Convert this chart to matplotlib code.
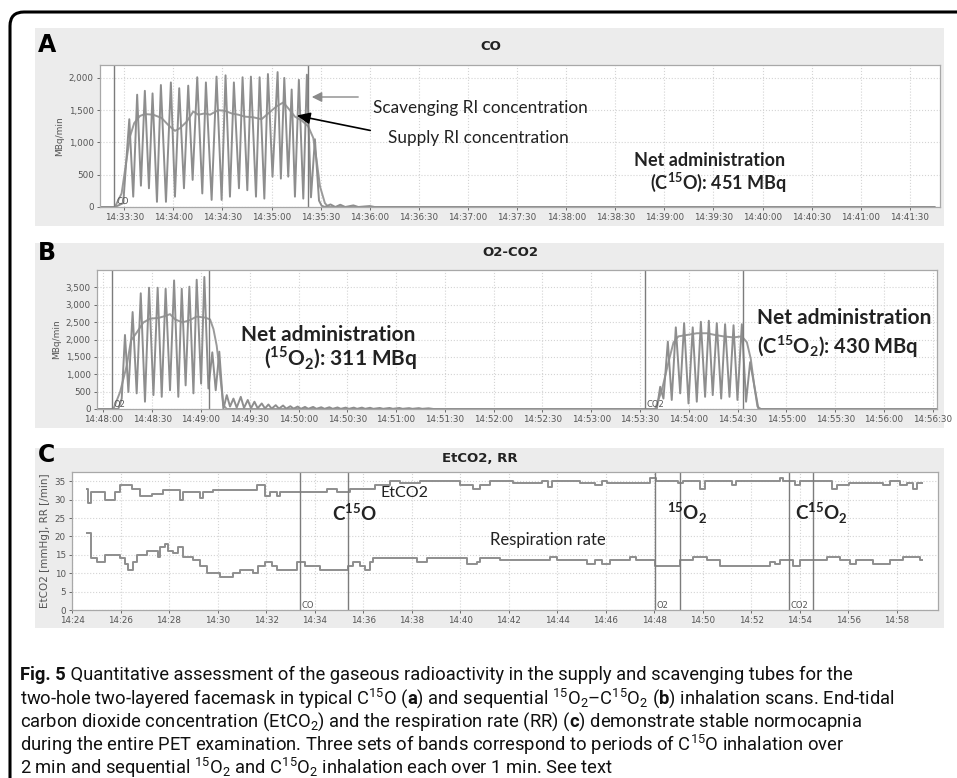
import matplotlib
matplotlib.use("Agg")
import matplotlib.pyplot as plt
from matplotlib.patches import Rectangle, FancyBboxPatch, FancyArrowPatch
from matplotlib.ticker import FuncFormatter, MultipleLocator
from matplotlib.text import Annotation
import matplotlib.transforms as mtrans

plt.rcParams['mathtext.fontset'] = 'custom'
plt.rcParams['mathtext.rm'] = 'Roboto'
plt.rcParams['mathtext.bf'] = 'Roboto:bold'
plt.rcParams['mathtext.sf'] = 'Lato:bold'

W, H = 957, 778

# ---- panel A (CO), seconds from 14:33:30 ----
a_t0 = 14*3600 + 33*60 + 30
a_scav_t = [-14, -5.7, -0.6, 3.1, 5.5, 7.9, 10.2, 12.6, 15.1, 17.3, 20.0, 22.4, 25.5, 28.5, 31.0,
            33.6, 36.5, 39.1, 41.8, 44.6, 47.7, 49.9, 53.4, 56.4, 59.5, 61.9, 64.6, 67.0, 70.1,
            72.3, 75.2, 77.4, 80.5, 82.7, 85.6, 87.8, 90.6, 93.7, 95.7, 97.8, 100.2, 102.3, 104.3,
            106.7, 109.4, 111.6, 114.1, 116.5, 119.0, 120.6, 122.6, 126, 129, 132, 135, 140, 143,
            150, 153, 495]
a_scav_v = [0, 0, 60, 1360, 160, 1740, 330, 1800, 290, 1760, 80, 1890, 80, 1930, 160,
            1840, 290, 1880, 420, 2010, 210, 1930, 110, 2020, 110, 2040, 160, 1930, 290,
            2010, 260, 2020, 160, 2010, 130, 2060, 470, 2090, 440, 2000, 470, 1820, 160,
            1970, 130, 2050, 150, 1050, 100, 20, 0, 40, 0, 35, 0, 25, 0,
            15, 0, 0]
a_sup_t = [-14, -5.7, -1.6, 1.4, 3.5, 6.1, 9.6, 12.6, 17.7, 22.8, 26.9, 31.0, 34.0, 38.1, 42.2,
           45.2, 49.3, 52.4, 57.4, 61.5, 65.6, 69.7, 73.7, 78.8, 83.9, 88.0, 93.1, 97.2, 100.2,
           104.3, 108.4, 112.4, 115.5, 117.5, 119.6, 122.6, 124.7, 495]
a_sup_v = [0, 0, 210, 730, 1090, 1300, 1410, 1440, 1430, 1380, 1270, 1180, 1220, 1320, 1480,
           1430, 1450, 1430, 1500, 1490, 1450, 1430, 1400, 1390, 1360, 1450, 1560, 1620, 1530,
           1400, 1340, 1250, 1070, 730, 320, 60, 0, 0]
a_bands = [-6.3, 112.4]

# ---- panel B (O2-CO2), seconds from 14:48:00 ----
b_t0 = 14*3600 + 48*60
b_scav_t = [-4, 6.2, 9.2, 11.3, 13.3, 15.4, 18.0, 20.5, 23.0, 25.6, 28.1, 30.8, 33.4, 35.9, 38.3,
            41.0, 43.5, 46.1, 48.2, 50.6, 52.9, 55.4, 57.4, 60.1, 62.1, 64.6, 67.0, 69.1, 71.3,
            73.8, 75.9, 77.9, 80.0, 82.0, 84.5, 86.5, 88.8, 90.8, 92.9, 94.9, 97.4, 99.4, 101.5,
            103.5, 106, 108, 110.5, 112.5, 115, 117, 119.5, 121.5, 124, 126, 129, 131, 134, 136,
            139, 141, 144, 146, 149, 151, 154, 156, 159, 161, 164, 166, 170, 172, 176, 178, 182,
            184, 188, 190, 194, 196, 200, 203,
            340.3, 342.4, 344.4, 347.1, 349.5, 352.0, 354.7, 357.1, 359.8, 362.4, 364.9, 367.4,
            370.0, 372.3, 374.7, 377.2, 379.9, 382.3, 385.0, 387.5, 389.9, 392.6, 395.2, 397.7,
            402.8, 512]
b_scav_v = [0, 0, 0, 300, 2130, 490, 2790, 450, 3330, 210, 3490, 400, 3490, 350, 3460,
            540, 3700, 350, 3460, 680, 3520, 450, 3720, 730, 3800, 590, 1630, 540, 1650,
            0, 400, 70, 300, 40, 350, 30, 260, 20, 210, 20, 160, 15, 130,
            10, 110, 10, 100, 10, 80, 10, 70, 5, 60, 5, 60, 5, 50, 5,
            50, 5, 45, 5, 40, 5, 40, 5, 40, 5, 35, 5, 30, 5, 30, 5, 30,
            5, 25, 5, 25, 5, 20, 0,
            0, 640, 300, 1940, 260, 2350, 450, 2470, 160, 2350, 210, 2510,
            350, 2540, 400, 2470, 300, 2440, 350, 2410, 260, 2440, 210, 1350,
            0, 0]
b_sup_t = [-4, 6.2, 10.3, 14.4, 17.0, 20.5, 24.6, 28.7, 33.8, 38.3, 41.0, 44.1, 48.6, 53.3, 57.4,
           62.5, 65.6, 67.7, 69.7, 71.8, 73.8, 75.9,
           339.3, 343.4, 347.5, 350.6, 353.6, 358.8, 364.9, 371.1, 376.2, 381.3, 387.5, 392.6,
           395.7, 398.1, 400.2, 402.2, 404.3, 512]
b_sup_v = [0, 0, 490, 1250, 1970, 2200, 2490, 2600, 2620, 2680, 2730, 2580, 2490, 2560, 2660,
           2630, 2580, 2300, 1820, 970, 110, 0,
           0, 540, 1350, 1920, 2090, 2130, 2180, 2180, 2130, 2090, 2060, 2090,
           1920, 1440, 680, 70, 0, 0]
b_bands = [5.5, 65.2, 333.1, 393.6]

# ---- panel C (EtCO2, RR), minutes from 14:24 ----
c_t0 = 14*3600 + 24*60
etco2_t = [0.63, 0.67, 0.77, 1.36, 1.77, 1.98, 2.46, 2.80, 3.28, 3.76, 4.45, 4.59, 5.28, 5.41,
           5.83, 7.61, 7.96, 8.16, 8.44, 8.57, 10.50, 10.91, 11.46, 12.49, 13.11, 13.52, 14.34,
           15.99, 16.54, 16.82, 17.23, 18.19, 19.36, 19.64, 19.77, 20.94, 21.56, 21.84, 22.04,
           23.81, 24.09, 24.98, 25.19, 25.88, 26.09, 27.22, 27.36, 29.18, 29.32, 29.80, 30.01,
           31.32, 31.52, 32.04, 33.45, 33.72, 34.13, 34.41, 34.68, 34.82, 35.02]
etco2_v = [33, 29, 32, 30, 32, 34, 33, 31, 31.5, 32.5, 30, 32, 30.5, 32,
           32.5, 34, 31, 32, 31, 32, 33, 32, 33, 34, 35, 34.5, 35,
           34, 33, 34, 35, 34.5, 35, 33.5, 35, 34.5, 34, 35, 34.5,
           36, 35, 34.5, 35, 33, 35, 34, 35, 36, 35, 34, 35,
           33, 34, 34.5, 34, 35, 34, 34.5, 33, 34.5, 34.5]
rr_t = [0.63, 0.77, 1.02, 1.36, 1.98, 2.18, 2.32, 2.53, 2.67, 3.08, 3.56, 3.63, 3.83, 3.97,
        4.18, 4.38, 4.59, 5.00, 5.28, 5.55, 6.10, 6.65, 6.92, 7.47, 7.68, 7.96, 8.23, 8.44,
        9.26, 9.60, 10.22, 11.39, 11.60, 11.87, 12.08, 12.28, 12.42, 14.21, 14.62, 16.27,
        16.68, 16.81, 17.64, 19.71, 19.98, 21.22, 21.56, 21.84, 22.18, 23.00, 23.27, 24.03,
        25.06, 25.61, 26.16, 26.71, 28.77, 28.98, 29.18, 29.73, 30.01, 31.11, 31.66, 32.07,
        32.34, 33.03, 33.72, 34.27, 34.95, 35.02]
rr_v = [21, 14, 13, 15, 14, 12.5, 11, 13, 15, 16, 14.5, 17, 18, 16,
        15.5, 17, 14.5, 13.5, 12, 10, 9, 10, 11, 10, 12, 13, 12, 11,
        13, 12, 11, 12, 13, 12, 11, 13, 14, 13, 14, 12.5,
        13, 14, 13.5, 14.5, 13.5, 12.5, 13.5, 12.5, 13.5, 14.5, 13.5, 12,
        13.5, 14.5, 13.5, 12, 13, 12.5, 13.5, 12, 13.5, 14.5, 13.5, 12.5,
        13.5, 12.5, 13.5, 14.5, 13.5, 13.5]
c_bands = [9.40, 11.38, 24.03, 25.06, 29.55, 30.54]

LINE = '#8e8e8e'
BAND = '#7c7c7c'
TICK = '#555555'


def rect(x0, y0, x1, y1):
    return [x0 / W, 1 - y1 / H, (x1 - x0) / W, (y1 - y0) / H]


def fx(x, y):
    return x / W, 1 - y / H


def hms(v, p):
    v = int(round(v))
    return f"{v // 3600}:{v % 3600 // 60:02d}:{v % 60:02d}"


def hm(v, p):
    v = int(round(v))
    return f"{v // 3600}:{v % 3600 // 60:02d}"


def style(ax, ylabel):
    ax.set_facecolor('white')
    for s in ax.spines.values():
        s.set_color('#a8a8a8')
        s.set_linewidth(0.9)
    ax.grid(True, color='#d4d4d4', linestyle=':', linewidth=0.8)
    ax.tick_params(labelsize=6.3, colors=TICK, length=2.5, width=0.6, pad=2)
    ax.yaxis.set_major_formatter(FuncFormatter(lambda v, p: f"{int(v):,}"))
    ax.set_ylabel(ylabel, fontsize=6.5, color=TICK, labelpad=3)


fig = plt.figure(figsize=(W / 100, H / 100), dpi=100)

# outer rounded frame
fig.patches.append(FancyBboxPatch((10, -30), 1000, H - 12 + 30,
                                  boxstyle="round,pad=0,rounding_size=14",
                                  transform=mtrans.IdentityTransform(),
                                  fc='none', ec='black', lw=2.2, zorder=5))

for y0, y1 in [(28, 226), (243, 428), (448, 628)]:
    x0, yy0 = fx(35, y1)
    fig.patches.append(Rectangle((x0, yy0), (944 - 35) / W, (y1 - y0) / H,
                                 transform=fig.transFigure, fc='#ececec', ec='none', zorder=-1))

# ---- A ----
axA = fig.add_axes(rect(100, 65, 940, 207))
axA.plot([a_t0 + t for t in a_sup_t], a_sup_v, color='#9a9a9a', lw=1.4)
axA.plot([a_t0 + t for t in a_scav_t], a_scav_v, color=LINE, lw=1.4)
for b in a_bands:
    axA.axvline(a_t0 + b, color=BAND, lw=1.0)
axA.set_xlim(a_t0 - 14.8, a_t0 + 498.4)
axA.set_ylim(0, 2200)
axA.set_xticks([a_t0 + 30 * i for i in range(17)])
axA.xaxis.set_major_formatter(FuncFormatter(hms))
axA.yaxis.set_major_locator(MultipleLocator(500))
style(axA, 'MBq/min')
axA.text(a_t0 - 5, 40, 'CO', fontsize=6, color=TICK)

# ---- B ----
axB = fig.add_axes(rect(97, 270, 937, 409))
axB.plot([b_t0 + t for t in b_sup_t], b_sup_v, color='#9a9a9a', lw=1.4)
axB.plot([b_t0 + t for t in b_scav_t], b_scav_v, color=LINE, lw=1.4)
for b in b_bands:
    axB.axvline(b_t0 + b, color=BAND, lw=1.0)
axB.set_xlim(b_t0 - 3.9, b_t0 + 512.6)
axB.set_ylim(0, 4000)
axB.set_xticks([b_t0 + 30 * i for i in range(18)])
axB.xaxis.set_major_formatter(FuncFormatter(hms))
axB.set_yticks(range(0, 4000, 500))
style(axB, 'MBq/min')
axB.text(b_t0 + 6.5, 60, 'O2', fontsize=6, color=TICK)
axB.text(b_t0 + 334, 60, 'CO2', fontsize=6, color=TICK)

# ---- C ----
axC = fig.add_axes(rect(72, 472, 938, 610))
axC.step([c_t0 + 60 * t for t in etco2_t], etco2_v, where='post', color=LINE, lw=1.4)
axC.step([c_t0 + 60 * t for t in rr_t], rr_v, where='post', color=LINE, lw=1.4)
for b in c_bands:
    axC.axvline(c_t0 + 60 * b, color=BAND, lw=1.0)
axC.set_xlim(c_t0, c_t0 + 60 * 35.7)
axC.set_ylim(0, 37.5)
axC.set_xticks([c_t0 + 120 * i for i in range(18)])
axC.xaxis.set_major_formatter(FuncFormatter(hm))
axC.yaxis.set_major_locator(MultipleLocator(5))
style(axC, 'EtCO2 [mmHg], RR [/min]')
axC.yaxis.label.set_fontsize(7.5)
axC.text(c_t0 + 60 * 9.45, 0.6, 'CO', fontsize=6, color=TICK)
axC.text(c_t0 + 60 * 24.08, 0.6, 'O2', fontsize=6, color=TICK)
axC.text(c_t0 + 60 * 29.6, 0.6, 'CO2', fontsize=6, color=TICK)

# panel titles and letters
for title, x, y in [('CO', 491, 46), ('O2-CO2', 510, 253), ('EtCO2, RR', 480, 458)]:
    fig.text(*fx(x, y), title, fontsize=9.5, fontweight='bold', ha='center', va='center',
             color='#222222', family='DejaVu Sans')
for lab, y in [('A', 45), ('B', 253), ('C', 455)]:
    fig.text(*fx(38, y), lab, fontsize=17, fontweight='bold', ha='left', va='center',
             family='DejaVu Sans')

# annotations
ann = dict(family='Lato', color='#222222')
fig.text(*fx(373, 108), 'Scavenging RI concentration', fontsize=12.3, va='center', **ann)
fig.text(*fx(388, 138), 'Supply RI concentration', fontsize=12.3, va='center', **ann)
fig.patches.append(FancyArrowPatch(fx(361, 97), fx(309, 97), transform=fig.transFigure,
                                   arrowstyle='-|>,head_length=6,head_width=3', color='#8a8a8a',
                                   lw=1.0, mutation_scale=1))
fig.patches.append(FancyArrowPatch(fx(373, 131), fx(294, 115), transform=fig.transFigure,
                                   arrowstyle='-|>,head_length=8,head_width=3.5', color='black',
                                   lw=1.2, mutation_scale=1))

fig.text(*fx(710, 160), 'Net administration', fontsize=13, fontweight='bold', ha='center',
         va='center', **ann)
fig.text(*fx(786, 182), r'(C$^{\mathsf{15}}$O): 451 MBq', fontsize=13, fontweight='bold',
         ha='right', va='center', **ann)
fig.text(*fx(328, 335), 'Net administration', fontsize=15, fontweight='bold', ha='center',
         va='center', **ann)
fig.text(*fx(417, 358), r'($^{\mathsf{15}}$O$_{\mathsf{2}}$): 311 MBq', fontsize=15,
         fontweight='bold', ha='right', va='center', **ann)
fig.text(*fx(757, 318), 'Net administration', fontsize=15, fontweight='bold', ha='left',
         va='center', **ann)
fig.text(*fx(757, 347), r'(C$^{\mathsf{15}}$O$_{\mathsf{2}}$): 430 MBq', fontsize=14.5,
         fontweight='bold', ha='left', va='center', **ann)

fig.text(*fx(380, 493), 'EtCO2', fontsize=11.5, va='center', **ann)
fig.text(*fx(490, 540), 'Respiration rate', fontsize=12, va='center', **ann)
fig.text(*fx(332, 513), r'C$^{\mathsf{15}}$O', fontsize=13.5, fontweight='bold', va='center', **ann)
fig.text(*fx(667, 513), r'$^{\mathsf{15}}$O$_{\mathsf{2}}$', fontsize=13.5, fontweight='bold',
         va='center', **ann)
fig.text(*fx(795, 513), r'C$^{\mathsf{15}}$O$_{\mathsf{2}}$', fontsize=13.5, fontweight='bold',
         va='center', **ann)

# caption
caption = [
    r' Quantitative assessment of the gaseous radioactivity in the supply and scavenging tubes for the',
    r'two-hole two-layered facemask in typical C$^{15}$O ($\mathbf{a}$) and sequential $^{15}$O$_2$–C$^{15}$O$_2$ ($\mathbf{b}$) inhalation scans. End-tidal',
    r'carbon dioxide concentration (EtCO$_2$) and the respiration rate (RR) ($\mathbf{c}$) demonstrate stable normocapnia',
    r'during the entire PET examination. Three sets of bands correspond to periods of C$^{15}$O inhalation over',
    r'2 min and sequential $^{15}$O$_2$ and C$^{15}$O$_2$ inhalation each over 1 min. See text',
]
cap_kw = dict(fontsize=13.2, va='center', family='Roboto', color='#111111')
lead = fig.text(*fx(20, 675), 'Fig. 5', fontweight='bold', ha='left', **cap_kw)
fig.add_artist(Annotation(caption[0], xy=(1, 0.5), xycoords=lead, ha='left', **cap_kw))
for i, line in enumerate(caption[1:], start=1):
    fig.text(*fx(20, 675 + 23.2 * i), line, ha='left', **cap_kw)

fig.savefig('out.png', dpi=100)
